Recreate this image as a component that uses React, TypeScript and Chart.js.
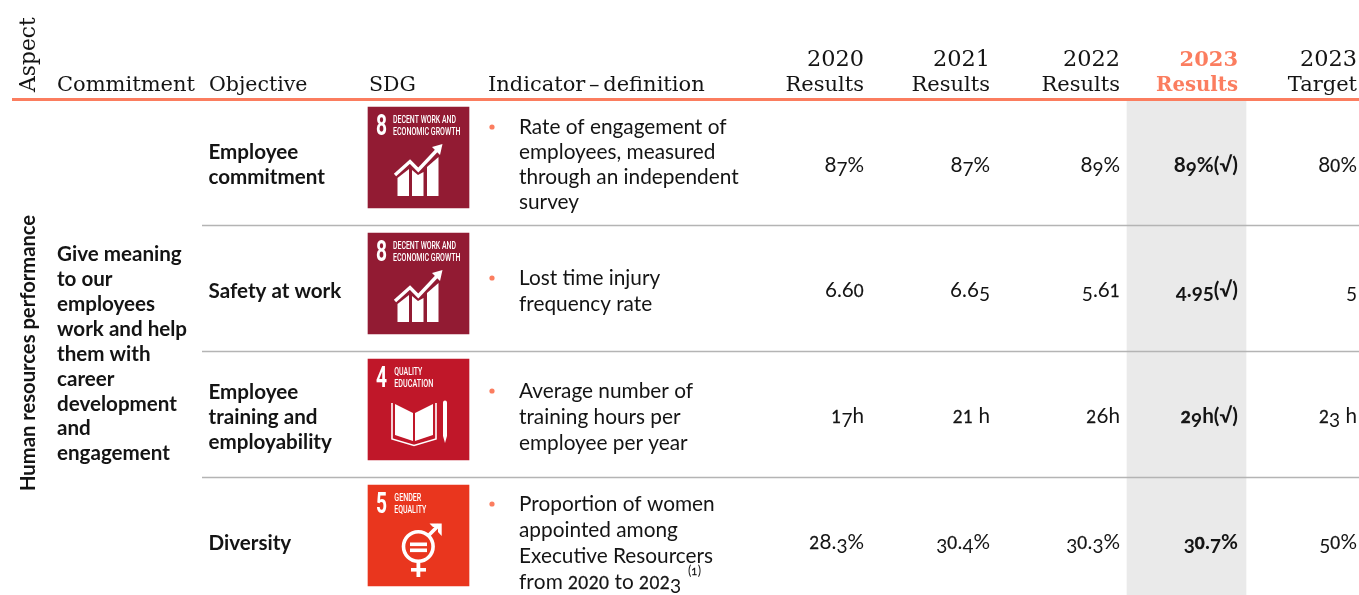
import React, { useEffect, useRef } from "react";
import { Chart, registerables } from "chart.js";

Chart.register(...registerables);

// ---- table content ----
const aspectHeader = "Aspect";
const commitmentHeader = "Commitment";
const objectiveHeader = "Objective";
const sdgHeader = "SDG";
const indicatorHeader = "Indicator – definition";
const yearHeaders = ["2020", "2021", "2022", "2023", "2023"];
const kindHeaders = ["Results", "Results", "Results", "Results", "Target"];
const aspectLabel = "Human resources performance";
const commitmentLines = ["Give meaning", "to our", "employees", "work and help", "them with", "career", "development", "and", "engagement"];
const objectives = [["Employee", "commitment"], ["Safety at work"], ["Employee", "training and", "employability"], ["Diversity"]];
const indicators = [
  ["Rate of engagement of", "employees, measured", "through an independent", "survey"],
  ["Lost time injury", "frequency rate"],
  ["Average number of", "training hours per", "employee per year"],
  ["Proportion of women", "appointed among", "Executive Resourcers", "from 2020 to 2023"],
];
const results2020 = ["87%", "6.60", "17h", "28.3%"];
const results2021 = ["87%", "6.65", "21 h", "30.4%"];
const results2022 = ["89%", "5.61", "26h", "30.3%"];
const results2023 = ["89%(√)", "4.95(√)", "29h(√)", "30.7%"];
const target2023 = ["80%", "5", "23 h", "50%"];
const sdgNumbers = ["8", "8", "4", "5"];
const sdgTitles = [["DECENT WORK AND", "ECONOMIC GROWTH"], ["DECENT WORK AND", "ECONOMIC GROWTH"], ["QUALITY", "EDUCATION"], ["GENDER", "EQUALITY"]];

// ---- layout (table geometry, in scale units) ----
const W = 1359;
const H = 595;
const TILE_TOPS = [107, 233, 359, 485];
const TILE_SIZE = 101;
const TILE_X = 368;
const RULES = [225.5, 351.5, 477.5];
const COL_RIGHT = [864, 990, 1120, 1238, 1357];
const ROW_BASE = [172, 297, 423, 549];
const OBJ_BASE = [[159, 184], [298], [399, 424, 449], [550]];
const IND_BASE = [[134, 159, 184, 209], [285, 311], [398, 424, 450], [511, 537, 563, 589]];
const COMMIT_BASE = [261, 286, 311, 336, 361, 386, 411, 435, 460];
const TITLE_WIDTHS = [[63, 67.5], [63, 67.5], [28, 39], [27, 32]];
const ORANGE = "#FB7D5F";
const INK = "#141414";
const TILE_COLORS = ["#921B33", "#921B33", "#C01729", "#E9361E"];
const SLAB = '"DejaVu Serif", serif';
const SANS = 'Lato, "Noto Sans", sans-serif';

function poly(c: CanvasRenderingContext2D, b: number[][]) {
  c.beginPath();
  b.forEach((p, i) => (i ? c.lineTo(p[0], p[1]) : c.moveTo(p[0], p[1])));
  c.closePath();
  c.fill();
}

function drawGrowth(c: CanvasRenderingContext2D) {
  c.fillStyle = "#fff";
  c.strokeStyle = "#fff";
  poly(c, [[29.5, 71], [41, 62], [41, 89], [29.5, 89]]);
  poly(c, [[44, 63], [50, 68], [55.5, 65], [55.5, 89], [44, 89]]);
  poly(c, [[59, 60], [70.5, 50], [70.5, 89], [59, 89]]);
  c.lineWidth = 3.4;
  c.beginPath();
  c.moveTo(27, 68);
  c.lineTo(42, 54.5);
  c.lineTo(50.3, 63);
  c.lineTo(70, 42);
  c.stroke();
  poly(c, [[74.5, 37], [64, 40], [72, 48]]);
}

function drawBook(c: CanvasRenderingContext2D) {
  c.fillStyle = "#fff";
  c.strokeStyle = "#fff";
  poly(c, [[27, 45], [45, 54], [45, 82], [27, 76]]);
  poly(c, [[47, 54], [65, 45], [65, 76], [47, 82]]);
  c.lineWidth = 1.6;
  c.beginPath();
  c.moveTo(24, 44);
  c.lineTo(24, 80);
  c.lineTo(46, 86.5);
  c.lineTo(68, 80);
  c.lineTo(68, 44);
  c.stroke();
  c.beginPath();
  c.moveTo(75, 44);
  c.arc(77, 43.5, 2, Math.PI, 0);
  c.lineTo(79, 77);
  c.lineTo(77, 84);
  c.lineTo(75, 77);
  c.closePath();
  c.fill();
}

function drawGender(c: CanvasRenderingContext2D) {
  c.fillStyle = "#fff";
  c.strokeStyle = "#fff";
  c.lineWidth = 3.6;
  c.beginPath();
  c.arc(50.3, 61.5, 14.8, 0, Math.PI * 2);
  c.stroke();
  c.fillRect(42, 57.5, 17, 3.6);
  c.fillRect(42, 63.5, 17, 3.6);
  c.fillRect(48.5, 76, 3.8, 16);
  c.fillRect(43, 83, 15, 3.6);
  c.lineWidth = 3.8;
  c.beginPath();
  c.moveTo(61, 50);
  c.lineTo(71, 40);
  c.stroke();
  poly(c, [[61.5, 38.5], [73.7, 38.5], [73.7, 51], [70, 47], [70, 42], [65, 42]]);
}

// Old-style figures: canvas fonts cannot switch the OpenType feature on, so each digit is set by hand.
const SMALL = "012";
const DROP = "34579";
function oldstyle(c: CanvasRenderingContext2D, s: string, x: number, y: number, size: number, weight: string, color: string, align: "left" | "right") {
  const fontAt = (px: number) => `${weight} ${px}px ${SANS}`;
  const parts = s.split("").map((ch) => {
    const small = SMALL.includes(ch);
    const px = small ? size * 0.82 : DROP.includes(ch) ? size * 0.92 : size;
    c.font = fontAt(px);
    return { ch, small, px, dy: DROP.includes(ch) ? size * 0.17 : 0, w: c.measureText(ch).width + (small ? 0.4 : 0) };
  });
  const total = parts.reduce((a, p) => a + p.w, 0);
  let cx = align === "right" ? x - total : x;
  c.fillStyle = color;
  c.strokeStyle = color;
  c.textAlign = "left";
  c.textBaseline = "alphabetic";
  for (const p of parts) {
    c.font = fontAt(p.px);
    c.fillText(p.ch, cx, y + p.dy);
    if (p.small) {
      c.lineWidth = weight === "bold" ? 0.6 : 0.3;
      c.strokeText(p.ch, cx, y + p.dy);
    }
    cx += p.w;
  }
  return cx;
}

const tablePlugin = {
  id: "tableText",
  afterDatasetsDraw(chart: any) {
    const c: CanvasRenderingContext2D = chart.ctx;
    const sx = chart.scales.x;
    const sy = chart.scales.y;
    const X = (v: number) => sx.getPixelForValue(v);
    const Y = (v: number) => sy.getPixelForValue(v);
    const text = (s: string, x: number, y: number, font: string, color = INK, align: CanvasTextAlign = "left") => {
      c.font = font;
      c.fillStyle = color;
      c.textAlign = align;
      c.textBaseline = "alphabetic";
      c.fillText(s, X(x), Y(y));
    };
    const rotated = (s: string, x: number, y: number, font: string) => {
      c.save();
      c.translate(X(x), Y(y));
      c.rotate(-Math.PI / 2);
      c.font = font;
      c.fillStyle = INK;
      c.textAlign = "left";
      c.textBaseline = "alphabetic";
      c.fillText(s, 0, 0);
      c.restore();
    };
    const HEAD = `21px ${SLAB}`;
    const YEAR = `22.4px ${SLAB}`;
    const BODY = `20.8px ${SANS}`;
    const BOLD = `bold 20.6px ${SANS}`;

    rotated(aspectHeader, 35, 92, `21.8px ${SLAB}`);
    rotated(aspectLabel, 35, 491, `bold 20.2px ${SANS}`);
    text(commitmentHeader, 57, 91, HEAD);
    text(objectiveHeader, 209, 91, `20.5px ${SLAB}`);
    text(sdgHeader, 369, 91, `20.5px ${SLAB}`);
    (c as any).wordSpacing = "-3px";
    text(indicatorHeader, 488, 91, HEAD);
    (c as any).wordSpacing = "0px";
    yearHeaders.forEach((y, i) => {
      const hot = i === 3;
      const col = hot ? ORANGE : INK;
      text(y, COL_RIGHT[i], 66, hot ? `bold 21px ${SLAB}` : YEAR, col, "right");
      text(kindHeaders[i], COL_RIGHT[i], 91, hot ? `bold 19.7px ${SLAB}` : HEAD, col, "right");
    });
    commitmentLines.forEach((l, i) => text(l, 57, COMMIT_BASE[i], BOLD));
    objectives.forEach((ls, r) => ls.forEach((l, i) => text(l, 208.5, OBJ_BASE[r][i], BOLD)));
    indicators.forEach((ls, r) => {
      c.beginPath();
      c.fillStyle = ORANGE;
      c.arc(X(492), Y(IND_BASE[r][0] - 7), 2.6, 0, Math.PI * 2);
      c.fill();
      ls.forEach((l, i) => {
        if (/\d/.test(l)) oldstyle(c, l, X(519), Y(IND_BASE[r][i]), 20.8, "normal", INK, "left");
        else text(l, 519, IND_BASE[r][i], BODY);
      });
    });
    oldstyle(c, "(1)", X(688), Y(575), 12.5, "normal", INK, "left");
    [results2020, results2021, results2022, results2023, target2023].forEach((col, ci) => {
      col.forEach((v, r) => oldstyle(c, v, X(COL_RIGHT[ci]), Y(ROW_BASE[r]), 20.7, ci === 3 ? "bold" : "normal", INK, "right"));
    });

    // SDG tile artwork
    sdgNumbers.forEach((n, r) => {
      c.save();
      c.translate(X(TILE_X), Y(TILE_TOPS[r]));
      c.fillStyle = "#fff";
      c.textAlign = "left";
      c.textBaseline = "alphabetic";
      c.font = `bold 29px Roboto, sans-serif`;
      c.fillText(n, 8, 28, 11);
      c.font = `500 10px Roboto, sans-serif`;
      const tx = n === "8" ? 25 : 26.3;
      sdgTitles[r].forEach((t, i) => c.fillText(t, tx, 16 + i * 12, TITLE_WIDTHS[r][i]));
      if (n === "8") drawGrowth(c);
      else if (n === "4") drawBook(c);
      else drawGender(c);
      c.restore();
    });
  },
};

export default function App() {
  const ref = useRef<HTMLCanvasElement>(null);
  useEffect(() => {
    const chart = new Chart(ref.current!, {
      type: "bar",
      data: {
        datasets: [
          {
            type: "bar",
            data: [{ x: 1186.5, y: [101, H] }] as any,
            backgroundColor: "#EAEAEA",
            barThickness: 119,
            order: 3,
          },
          {
            type: "bar",
            data: TILE_TOPS.map((t) => ({ x: TILE_X + TILE_SIZE / 2, y: [t, t + TILE_SIZE] })) as any,
            backgroundColor: TILE_COLORS,
            barThickness: TILE_SIZE,
            order: 2,
          },
          ...RULES.map((y) => ({
            type: "line" as const,
            data: [{ x: 202, y }, { x: W, y }],
            borderColor: "#B4B4B4",
            borderWidth: 1.6,
            pointRadius: 0,
            order: 1,
          })),
          {
            type: "line" as const,
            data: [{ x: 12, y: 99.5 }, { x: W, y: 99.5 }],
            borderColor: ORANGE,
            borderWidth: 3,
            pointRadius: 0,
            order: 0,
          },
        ] as any,
      },
      options: {
        animation: false,
        responsive: false,
        layout: { padding: 0 },
        plugins: { legend: { display: false }, tooltip: { enabled: false }, title: { display: false } },
        datasets: { bar: { grouped: false } } as any,
        scales: {
          x: { type: "linear", min: 0, max: W, display: false, offset: false },
          y: { type: "linear", min: 0, max: H, reverse: true, display: false },
        },
      },
      plugins: [tablePlugin],
    });
    return () => chart.destroy();
  }, []);
  return (
    <div style={{ position: "absolute", left: 0, top: 0, width: W, height: H, overflow: "hidden", background: "#fff" }}>
      <canvas ref={ref} width={W} height={H} style={{ display: "block" }} />
    </div>
  );
}
